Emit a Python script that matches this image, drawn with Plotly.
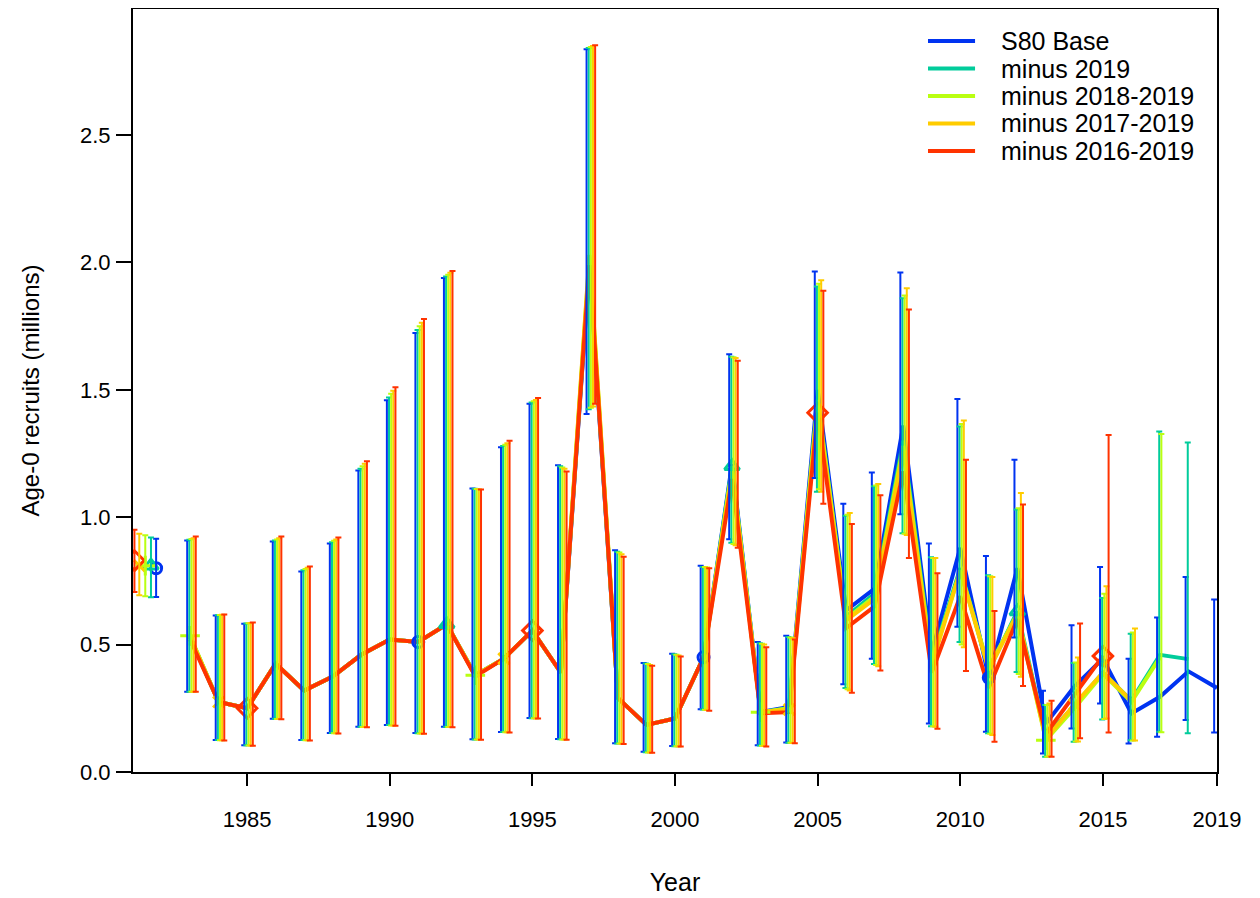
import plotly.graph_objects as go

# ---------------- data ----------------
years_all = list(range(1983, 2020))

series_names = ["S80 Base", "minus 2019", "minus 2018-2019", "minus 2017-2019", "minus 2016-2019"]
series_colors = ["#0033F1", "#01CC9B", "#BAFF11", "#FFCC00", "#FF3300"]
series_symbols = ["circle-open", "triangle-up-open", "cross-thin-open", "x-thin-open", "diamond-open"]
series_msize = [11, 13, 14, 11, 15]
series_last_year = [2019, 2018, 2017, 2016, 2015]
bar_offsets = [-0.1, -0.025, 0.05, 0.125, 0.2]
marker_years = [
    [1991, 2001, 2011],
    [1992, 2002, 2012],
    [1983, 1993, 2003, 2013],
    [1984, 1994, 2004, 2014],
    [1985, 1995, 2005, 2015],
]

# estimates (millions), starting 1983
est_base = [0.53, 0.275, 0.25, 0.425, 0.32, 0.375, 0.46, 0.52, 0.51, 0.58,
            0.38, 0.445, 0.555, 0.39, 1.98, 0.29, 0.185, 0.21, 0.45, 1.21,
            0.235, 0.255, 1.50, 0.635, 0.72, 1.36, 0.47, 0.88, 0.37, 0.80,
            0.19, 0.335, 0.445, 0.23, 0.295, 0.395, 0.33]
est_m19 = [0.53, 0.275, 0.25, 0.425, 0.32, 0.375, 0.46, 0.52, 0.51, 0.58,
           0.38, 0.445, 0.555, 0.39, 2.00, 0.29, 0.185, 0.21, 0.45, 1.20,
           0.235, 0.25, 1.46, 0.61, 0.70, 1.30, 0.44, 0.80, 0.40, 0.63,
           0.14, 0.26, 0.39, 0.28, 0.46, 0.443]
est_m18 = [0.535, 0.275, 0.25, 0.425, 0.32, 0.375, 0.46, 0.52, 0.51, 0.58,
           0.38, 0.445, 0.555, 0.39, 2.02, 0.29, 0.185, 0.21, 0.45, 1.19,
           0.235, 0.25, 1.46, 0.60, 0.69, 1.28, 0.43, 0.79, 0.41, 0.62,
           0.125, 0.25, 0.385, 0.275, 0.45]
est_m17 = [0.53, 0.275, 0.25, 0.425, 0.32, 0.375, 0.46, 0.52, 0.51, 0.58,
           0.38, 0.445, 0.555, 0.39, 2.03, 0.29, 0.185, 0.21, 0.45, 1.18,
           0.235, 0.245, 1.44, 0.595, 0.68, 1.26, 0.42, 0.79, 0.40, 0.62,
           0.13, 0.265, 0.39, 0.28]
est_m16 = [0.52, 0.275, 0.25, 0.425, 0.32, 0.375, 0.46, 0.52, 0.51, 0.58,
           0.375, 0.445, 0.555, 0.39, 1.99, 0.29, 0.185, 0.21, 0.45, 1.15,
           0.23, 0.235, 1.41, 0.565, 0.65, 1.18, 0.39, 0.69, 0.33, 0.60,
           0.15, 0.30, 0.455]

# upper / lower interval bounds, starting 1983
hi_base = [0.909, 0.614, 0.582, 0.905, 0.787, 0.897, 1.183, 1.459, 1.723, 1.939,
           1.113, 1.275, 1.445, 1.204, 2.837, 0.870, 0.428, 0.464, 0.810, 1.640,
           0.510, 0.535, 1.965, 1.053, 1.176, 1.961, 0.897, 1.464, 0.848, 1.226,
           0.319, 0.576, 0.805, 0.445, 0.606, 0.765, 0.677]
lo_base = [0.315, 0.126, 0.105, 0.209, 0.126, 0.153, 0.178, 0.184, 0.153, 0.178,
           0.129, 0.157, 0.212, 0.130, 1.405, 0.113, 0.079, 0.102, 0.246, 0.914,
           0.105, 0.116, 1.154, 0.344, 0.445, 1.012, 0.190, 0.570, 0.158, 0.528,
           0.073, 0.171, 0.269, 0.112, 0.138, 0.204, 0.155]
hi_m19 = [0.912, 0.615, 0.583, 0.909, 0.792, 0.902, 1.190, 1.470, 1.735, 1.945,
          1.112, 1.280, 1.450, 1.200, 2.842, 0.865, 0.426, 0.462, 0.805, 1.630,
          0.505, 0.530, 1.906, 1.006, 1.122, 1.860, 0.843, 1.356, 0.772, 1.030,
          0.263, 0.428, 0.683, 0.543, 1.337, 1.293]
lo_m19 = [0.315, 0.126, 0.105, 0.209, 0.126, 0.153, 0.178, 0.184, 0.152, 0.178,
          0.128, 0.157, 0.211, 0.129, 1.424, 0.112, 0.078, 0.101, 0.245, 0.900,
          0.104, 0.115, 1.100, 0.330, 0.424, 0.937, 0.180, 0.510, 0.152, 0.393,
          0.060, 0.119, 0.206, 0.125, 0.158, 0.152]
hi_m18 = [0.915, 0.616, 0.584, 0.913, 0.797, 0.908, 1.200, 1.485, 1.750, 1.952,
          1.111, 1.285, 1.455, 1.195, 2.846, 0.862, 0.424, 0.460, 0.805, 1.628,
          0.503, 0.528, 1.917, 1.010, 1.125, 1.870, 0.840, 1.366, 0.768, 1.035,
          0.263, 0.430, 0.700, 0.548, 1.327]
lo_m18 = [0.315, 0.125, 0.104, 0.208, 0.125, 0.152, 0.177, 0.183, 0.151, 0.177,
          0.128, 0.156, 0.211, 0.128, 1.430, 0.112, 0.077, 0.101, 0.244, 0.895,
          0.103, 0.115, 1.110, 0.325, 0.420, 0.935, 0.180, 0.500, 0.150, 0.385,
          0.060, 0.120, 0.208, 0.124, 0.156]
hi_m17 = [0.918, 0.617, 0.585, 0.918, 0.802, 0.913, 1.210, 1.497, 1.763, 1.960,
          1.110, 1.290, 1.460, 1.190, 2.850, 0.855, 0.420, 0.457, 0.803, 1.625,
          0.500, 0.525, 1.930, 1.017, 1.130, 1.899, 0.840, 1.380, 0.765, 1.095,
          0.269, 0.449, 0.729, 0.563]
lo_m17 = [0.315, 0.125, 0.104, 0.208, 0.125, 0.152, 0.177, 0.183, 0.151, 0.177,
          0.128, 0.156, 0.210, 0.128, 1.435, 0.111, 0.077, 0.100, 0.243, 0.890,
          0.102, 0.114, 1.100, 0.320, 0.415, 0.930, 0.178, 0.490, 0.145, 0.374,
          0.062, 0.120, 0.210, 0.124]
hi_m16 = [0.924, 0.618, 0.587, 0.924, 0.807, 0.920, 1.220, 1.510, 1.778, 1.967,
          1.109, 1.300, 1.468, 1.180, 2.853, 0.845, 0.417, 0.453, 0.800, 1.614,
          0.490, 0.520, 1.889, 0.973, 1.086, 1.815, 0.780, 1.226, 0.632, 1.050,
          0.280, 0.583, 1.323]
lo_m16 = [0.315, 0.124, 0.103, 0.207, 0.124, 0.151, 0.176, 0.182, 0.150, 0.176,
          0.127, 0.155, 0.210, 0.127, 1.445, 0.110, 0.076, 0.100, 0.240, 0.880,
          0.100, 0.113, 1.053, 0.311, 0.398, 0.840, 0.170, 0.396, 0.119, 0.338,
          0.060, 0.132, 0.155]

# virgin (R0) estimates, plotted left of the time series
r0_x = [1981.81, 1981.63, 1981.43, 1981.22, 1981.05]
r0_val = [0.80, 0.81, 0.81, 0.81, 0.83]
r0_hi = [0.916, 0.920, 0.929, 0.935, 0.951]
r0_lo = [0.687, 0.686, 0.690, 0.694, 0.707]

x_tickvals = [1985, 1990, 1995, 2000, 2005, 2010, 2015, 2019]
y_tickvals = [0.0, 0.5, 1.0, 1.5, 2.0, 2.5]

ests = [est_base, est_m19, est_m18, est_m17, est_m16]
his = [hi_base, hi_m19, hi_m18, hi_m17, hi_m16]
los = [lo_base, lo_m19, lo_m18, lo_m17, lo_m16]

FONT = "Liberation Sans, Arial, sans-serif"
fig = go.Figure()

# lines
for i in range(5):
    yrs = [y for y in years_all if y <= series_last_year[i]]
    fig.add_trace(go.Scatter(x=yrs, y=ests[i], mode="lines", name=series_names[i],
                             line=dict(color=series_colors[i], width=4),
                             showlegend=False, hoverinfo="skip"))
# point markers
for i in range(5):
    yrs = [y for y in years_all if y <= series_last_year[i]]
    mx = [y for y in yrs if y in marker_years[i]]
    my = [ests[i][yrs.index(y)] for y in mx]
    fig.add_trace(go.Scatter(x=mx + [r0_x[i]], y=my + [r0_val[i]], mode="markers",
                             marker=dict(symbol=series_symbols[i], size=series_msize[i],
                                         color=series_colors[i],
                                         line=dict(color=series_colors[i], width=3)),
                             showlegend=False, hoverinfo="skip"))
# interval bars
for i in range(5):
    yrs = [y for y in years_all if y <= series_last_year[i]]
    bx = [y + bar_offsets[i] for y in yrs] + [r0_x[i]]
    by = list(ests[i]) + [r0_val[i]]
    up = [h - v for h, v in zip(his[i], ests[i])] + [r0_hi[i] - r0_val[i]]
    dn = [v - l for l, v in zip(los[i], ests[i])] + [r0_val[i] - r0_lo[i]]
    fig.add_trace(go.Scatter(x=bx, y=by, mode="markers",
                             marker=dict(size=1, color="rgba(0,0,0,0)"),
                             error_y=dict(type="data", symmetric=False, array=up,
                                          arrayminus=dn, color=series_colors[i],
                                          thickness=2, width=3),
                             showlegend=False, hoverinfo="skip"))

# legend (drawn in paper coordinates to match the compact R legend)
leg_y = [0.958, 0.922, 0.886, 0.850, 0.814]
for i in range(5):
    fig.add_shape(type="line", xref="paper", yref="paper",
                  x0=0.7334, x1=0.7768, y0=leg_y[i], y1=leg_y[i],
                  line=dict(color=series_colors[i], width=4))
    fig.add_annotation(xref="paper", yref="paper", x=0.7985, y=leg_y[i],
                       xanchor="left", yanchor="middle", showarrow=False,
                       text=series_names[i], font=dict(size=25, color="black"))

fig.update_layout(
    width=1252, height=890,
    margin=dict(l=125, r=43, t=1, b=126),
    plot_bgcolor="white", paper_bgcolor="white",
    font=dict(family=FONT, size=22, color="black"),
    showlegend=False,
    xaxis=dict(range=[1981, 2019], tickvals=x_tickvals,
               ticktext=[str(v) for v in x_tickvals],
               ticks="outside", ticklen=12, tickwidth=1.5, tickcolor="black",
               showline=True, linecolor="black", linewidth=2, mirror=True,
               showgrid=False, zeroline=False, ticklabelstandoff=15,
               automargin=False,
               title=dict(text="Year", standoff=42, font=dict(size=25))),
    yaxis=dict(range=[0, 2.995], tickvals=y_tickvals,
               ticktext=[f"{v:.1f}" for v in y_tickvals],
               ticks="outside", ticklen=15, tickwidth=1.5, tickcolor="black",
               showline=True, linecolor="black", linewidth=2, mirror=True,
               showgrid=False, zeroline=False, ticklabelstandoff=1,
               automargin=False,
               title=dict(text="Age-0 recruits (millions)", standoff=34,
                          font=dict(size=24))),
)

fig.write_html("out.html")
